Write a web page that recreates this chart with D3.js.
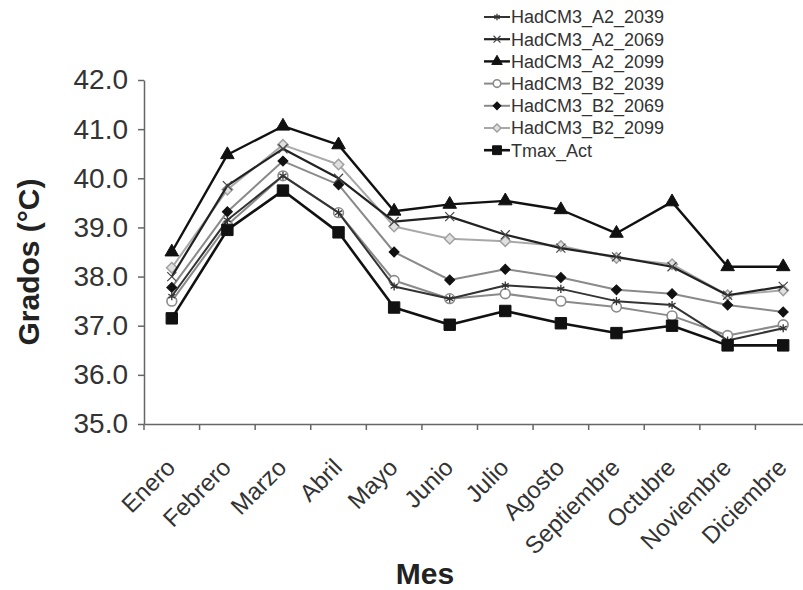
<!DOCTYPE html>
<html><head><meta charset="utf-8">
<script src="https://cdn.jsdelivr.net/npm/d3@7"></script>
<style>body{margin:0;background:#fff}svg{display:block}text{font-family:"Liberation Sans",Arial,sans-serif}</style>
</head><body><svg id="c" width="803" height="590"></svg>
<script>
const months = ["Enero","Febrero","Marzo","Abril","Mayo","Junio","Julio","Agosto","Septiembre","Octubre","Noviembre","Diciembre"];
const yTicks = [35,36,37,38,39,40,41,42];
const seriesNames = ["HadCM3_A2_2039","HadCM3_A2_2069","HadCM3_A2_2099","HadCM3_B2_2039","HadCM3_B2_2069","HadCM3_B2_2099","Tmax_Act"];
const A2_2039 = [37.6,39.15,40.05,39.3,37.8,37.55,37.82,37.75,37.5,37.42,36.7,36.95];
const A2_2069 = [38.0,39.85,40.6,40.0,39.12,39.22,38.85,38.58,38.4,38.2,37.62,37.8];
const A2_2099 = [38.5,40.48,41.06,40.68,39.33,39.47,39.54,39.36,38.88,39.52,38.2,38.2];
const B2_2039 = [37.5,39.05,40.05,39.3,37.92,37.55,37.65,37.5,37.38,37.2,36.8,37.02];
const B2_2069 = [37.78,39.32,40.35,39.87,38.5,37.93,38.15,37.98,37.73,37.65,37.42,37.28];
const B2_2099 = [38.18,39.77,40.68,40.28,39.02,38.77,38.72,38.62,38.38,38.25,37.62,37.72];
const Tmax_Act = [37.15,38.95,39.75,38.9,37.37,37.02,37.3,37.05,36.85,37.0,36.6,36.6];

const svg = d3.select("#c");
const x = d3.scaleBand().domain(months).range([144, 811]);
const y = d3.scaleLinear().domain([35,42]).range([424, 80]);
const cx = m => x(m) + x.bandwidth()/2;

const styles = {
  "HadCM3_A2_2039": {data:A2_2039, line:"#333", lw:2, sym:d3.symbolAsterisk, size:45, rot:0, fill:"none", stroke:"#333", sw:1.3},
  "HadCM3_A2_2069": {data:A2_2069, line:"#222", lw:2.2, sym:d3.symbolTimes, size:55, rot:0, fill:"none", stroke:"#444", sw:1.2},
  "HadCM3_A2_2099": {data:A2_2099, line:"#111", lw:2.4, sym:d3.symbolTriangle, size:80, rot:0, fill:"#111", stroke:"#111", sw:1},
  "HadCM3_B2_2039": {data:B2_2039, line:"#8a8a8a", lw:2, sym:d3.symbolCircle, size:75, rot:0, fill:"#fff", stroke:"#8a8a8a", sw:1.6},
  "HadCM3_B2_2069": {data:B2_2069, line:"#8a8a8a", lw:2, sym:d3.symbolSquare, size:50, rot:45, fill:"#111", stroke:"#111", sw:1},
  "HadCM3_B2_2099": {data:B2_2099, line:"#a8a8a8", lw:2, sym:d3.symbolSquare, size:55, rot:45, fill:"#e0e0e0", stroke:"#a0a0a0", sw:1.5},
  "Tmax_Act": {data:Tmax_Act, line:"#111", lw:2.6, sym:d3.symbolSquare, size:130, rot:0, fill:"#111", stroke:"#111", sw:1}
};
const drawOrder = ["HadCM3_B2_2099","HadCM3_B2_2039","HadCM3_B2_2069","HadCM3_A2_2039","HadCM3_A2_2069","HadCM3_A2_2099","Tmax_Act"];

// Axes
const yAxis = svg.append("g").attr("transform","translate(144,0)")
  .call(d3.axisLeft(y).tickValues(yTicks).tickFormat(d3.format(".1f")).tickSize(6).tickSizeOuter(0));
yAxis.select(".domain").attr("stroke","#666").attr("stroke-width",1.5);
yAxis.selectAll(".tick line").attr("stroke","#666").attr("stroke-width",1.5);
yAxis.selectAll(".tick text").attr("font-size",28).attr("fill","#333").attr("x",-16);

const xAxis = svg.append("g").attr("transform","translate(0,424)")
  .call(d3.axisBottom(x).tickSize(0).tickSizeOuter(0));
xAxis.select(".domain").attr("stroke","#666").attr("stroke-width",1.5);
xAxis.selectAll(".tick line").remove();
xAxis.selectAll(".boundary").data(months).enter().append("line")
  .attr("x1",d=>x(d)).attr("x2",d=>x(d)).attr("y1",0).attr("y2",6)
  .attr("stroke","#666").attr("stroke-width",1.5);
xAxis.selectAll(".tick text")
  .attr("font-size",24).attr("fill","#333")
  .attr("text-anchor","end")
  .attr("x",0).attr("y",0).attr("dy",0)
  .attr("transform","translate(5,45) rotate(-45)");

// Titles
svg.append("text").attr("transform","translate(39,262) rotate(-90)")
  .attr("text-anchor","middle").attr("font-size",30).attr("font-weight","bold").attr("fill","#222")
  .text("Grados (°C)");
svg.append("text").attr("x",425).attr("y",584)
  .attr("text-anchor","middle").attr("font-size",30).attr("font-weight","bold").attr("fill","#222")
  .text("Mes");

// Series
const line = d3.line().x((d,i)=>cx(months[i])).y(d=>y(d));
drawOrder.forEach(name=>{
  const s = styles[name];
  const g = svg.append("g");
  g.append("path").datum(s.data).attr("d",line).attr("fill","none")
    .attr("stroke",s.line).attr("stroke-width",s.lw).attr("stroke-linejoin","round");
  g.selectAll("path.m").data(s.data).enter().append("path").attr("class","m")
    .attr("transform",(d,i)=>`translate(${cx(months[i])},${y(d)}) rotate(${s.rot})`)
    .attr("d",d3.symbol(s.sym,s.size)())
    .attr("fill",s.fill).attr("stroke",s.stroke).attr("stroke-width",s.sw);
});

// Legend
const leg = svg.append("g").attr("transform","translate(484,17)");
seriesNames.forEach((name,i)=>{
  const s = styles[name];
  const gy = i*22.2;
  const g = leg.append("g").attr("transform",`translate(0,${gy})`);
  g.append("line").attr("x1",0).attr("x2",26).attr("y1",0).attr("y2",0)
    .attr("stroke",s.line).attr("stroke-width",s.lw);
  g.append("path").attr("transform",`translate(13,0) rotate(${s.rot})`)
    .attr("d",d3.symbol(s.sym,s.size*0.6)())
    .attr("fill",s.fill).attr("stroke",s.stroke).attr("stroke-width",s.sw);
  g.append("text").attr("x",27).attr("y",0).attr("dy","0.36em")
    .attr("font-size",18).attr("fill","#333").text(name);
});
</script></body></html>
